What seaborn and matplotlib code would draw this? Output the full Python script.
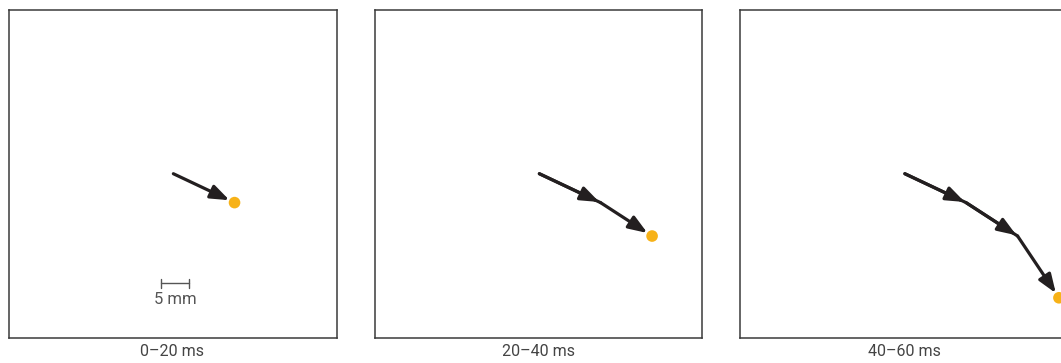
import matplotlib
matplotlib.use("Agg")
import matplotlib.pyplot as plt
import seaborn as sns
import pandas as pd

# trajectory points (mm, y measured downward from top of window)
traj_x = [29.1, 39.9, 49.0, 56.3]
traj_y = [28.9, 34.0, 39.9, 50.8]
panel_labels = ["0\u201320 ms", "20\u201340 ms", "40\u201360 ms"]
scale_len = 5  # mm
scale_x0 = 26.9
scale_y = 48.2

window = 57.9
arrow_col = "#231f20"
dot_col = "#f7b218"
edge_col = "#3a3a3a"

sns.set_theme(style="white")
plt.rcParams["font.family"] = ["Roboto", "DejaVu Sans"]

fig = plt.figure(figsize=(10.61, 3.63), dpi=100)
lefts = [8.5 / 1061, 374.5 / 1061, 740 / 1061]
w = 328 / 1061
h = 328 / 363
b = 25 / 363

for i, left in enumerate(lefts):
    ax = fig.add_axes([left, b, w, h])
    n = i + 2  # number of points shown in this panel
    path = pd.DataFrame({"x": traj_x[:n], "y": traj_y[:n], "step": range(n)})
    # continuous path (stops short of the dot), then a head on every segment
    if n > 2:
        sns.lineplot(data=path.iloc[:-1], x="x", y="y", sort=False, estimator=None, ax=ax,
                     color=arrow_col, lw=2.3, solid_joinstyle="round")
    for k in range(n - 1):
        last = k == n - 2
        ax.annotate("", xy=(traj_x[k + 1], traj_y[k + 1]), xytext=(traj_x[k], traj_y[k]),
                    arrowprops=dict(arrowstyle="-|>,head_length=0.75,head_width=0.28",
                                    color=arrow_col, lw=2.3, patchA=None,
                                    mutation_scale=15, shrinkA=0,
                                    shrinkB=4 if last else -1))
    cur = path.iloc[[-1]]
    sns.scatterplot(data=cur, x="x", y="y", ax=ax, color=dot_col, s=70,
                    edgecolor="none", zorder=5, legend=False)
    ax.set_xlim(0, window)
    ax.set_ylim(window, 0)
    ax.set_xticks([])
    ax.set_yticks([])
    ax.set_xlabel("")
    ax.set_ylabel("")
    for sp in ax.spines.values():
        sp.set_color(edge_col)
        sp.set_linewidth(1.1)
        sp.set_visible(True)

    if i == 0:
        ax.plot([scale_x0, scale_x0 + scale_len], [scale_y, scale_y], color="#555555", lw=1.0)
        for xx in (scale_x0, scale_x0 + scale_len):
            ax.plot([xx, xx], [scale_y - 0.8, scale_y + 0.8], color="#555555", lw=1.0)
        ax.text(scale_x0 + scale_len / 2, scale_y + 1.6, f"{scale_len} mm", ha="center", va="top",
                fontsize=12, color="#555555")

    fig.text(left + w / 2, 11 / 363, panel_labels[i], ha="center", va="center",
             fontsize=11.5, color="#444444")

fig.savefig("out.png", dpi=100)
